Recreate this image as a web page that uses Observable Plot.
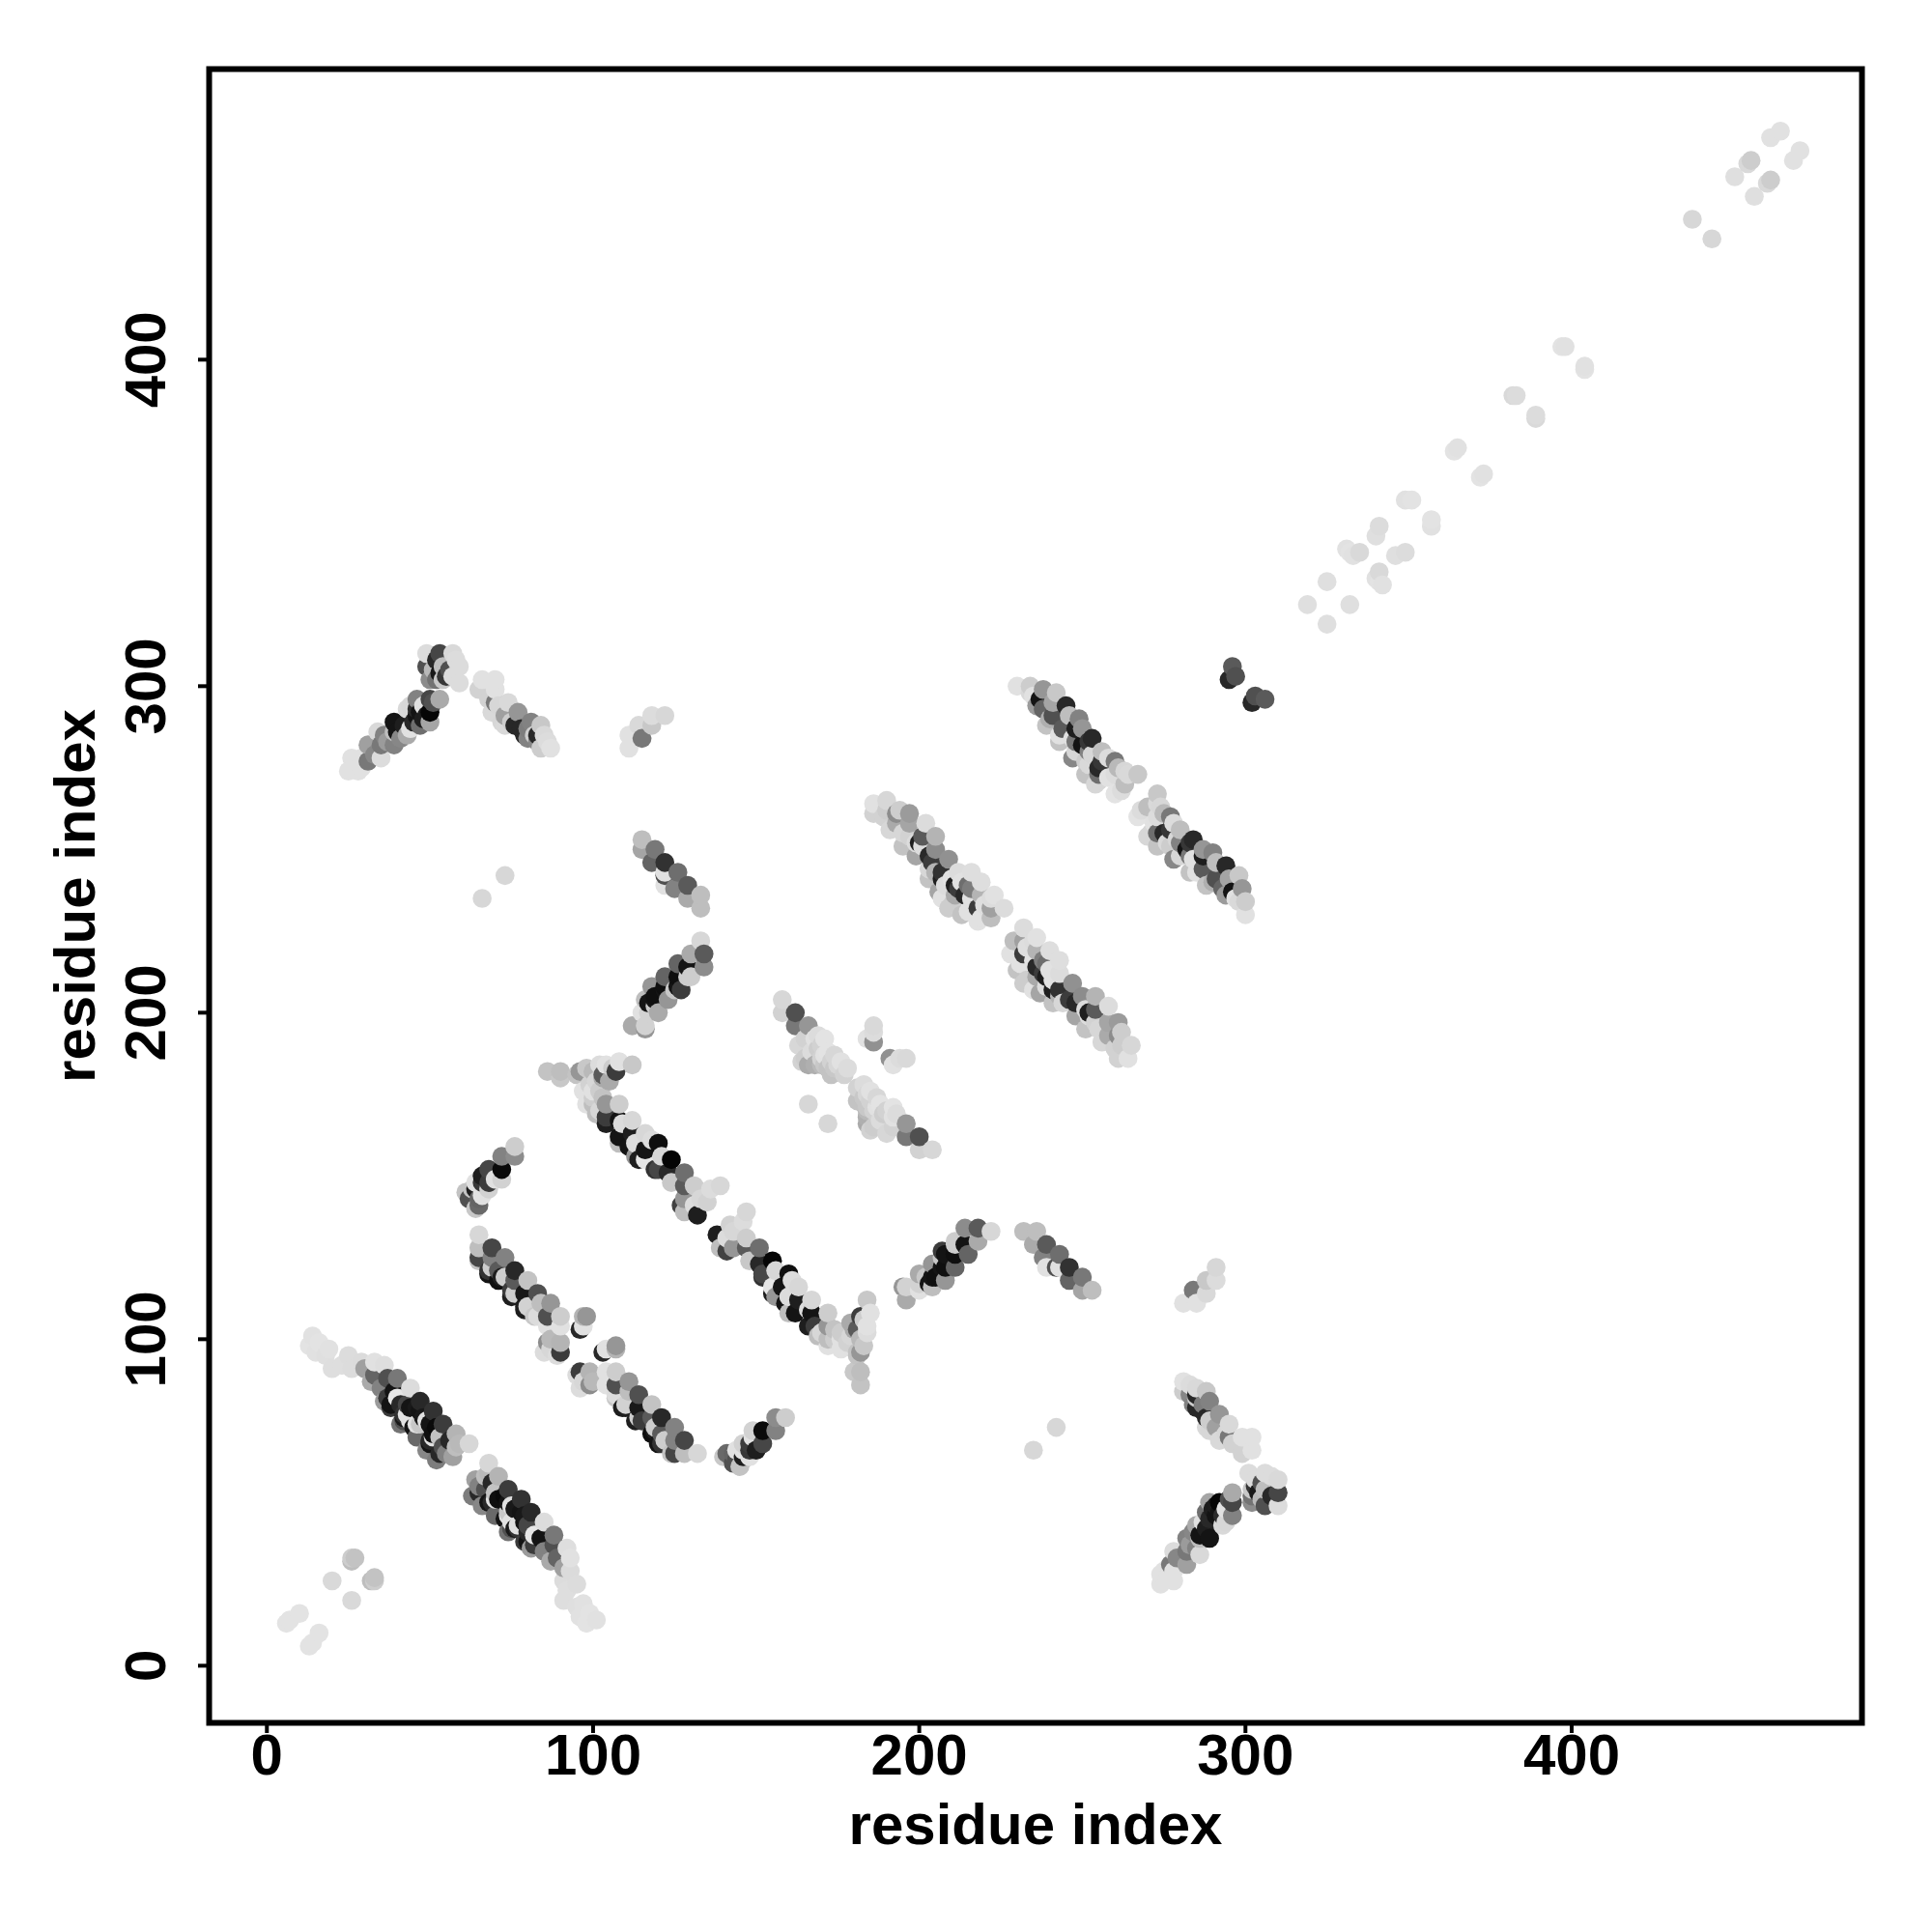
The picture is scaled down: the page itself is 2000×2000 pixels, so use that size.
<!DOCTYPE html>
<html><head><meta charset="utf-8">
<style>html,body{margin:0;padding:0;background:#fff}</style>
<script src="https://cdn.jsdelivr.net/npm/d3@7"></script>
<script src="https://cdn.jsdelivr.net/npm/@observablehq/plot@0.6"></script>
</head><body><div id="chart"></div>
<script>
// [residue i, residue j, contact strength 0-255]; the map is symmetric, so i<j only
const bandA=[[14,101,30],[13,98,28],[16,99,28],[15,96,30],[19,97,30],[18,95,32],[20,91,33],[25,95,35],[23,92,33],[29,93,36],[26,91,35],[30,91,95],[33,93,30],[36,92,33],[33,89,155],[32,87,85],[37,88,175],[40,88,135],[35,85,125],[44,85,35],[39,84,235],[37,82,195],[40,82,25],[43,80,185],[47,81,215],[44,79,235],[51,78,205],[47,78,235],[42,77,205],[44,75,30],[54,74,195],[50,74,235],[47,74,55],[51,71,240],[58,71,75],[62,68,40],[58,67,65],[54,67,175],[50,69,215],[57,64,95],[55,65,125],[38,80,235],[38,79,195],[42,76,230],[43,77,30],[42,75,175],[45,73,235],[46,74,30],[50,68,235],[51,70,30],[53,65,215],[48,76,230],[49,75,30],[52,73,245],[53,70,60],[56,69,215],[59,68,70],[46,79,230],[41,80,215],[36,81,100],[41,74,140],[46,70,150],[49,66,120],[52,63,130]];
const bandB=[[65,132,40],[65,128,65],[65,125,185],[69,128,185],[69,125,125],[73,125,125],[68,121,205],[76,121,215],[72,119,225],[71,121,165],[76,118,165],[80,118,60],[75,115,195],[83,114,175],[79,114,230],[79,110,225],[87,111,105],[84,111,65],[82,107,55],[90,107,50],[86,107,175],[86,104,30],[90,104,30],[86,99,115],[87,97,40],[90,99,75],[90,96,195],[89,95,35],[98,107,105],[97,107,75],[97,104,30],[96,103,215],[65,124,60],[68,120,235],[71,118,240],[75,113,225],[79,109,225],[69,122,50],[73,119,50],[76,114,50],[80,110,45],[83,107,35],[87,100,70],[85,96,35]];
const bandC=[[86,182,60],[90,182,65],[90,180,55],[95,181,60],[96,182,105],[96,181,60],[100,182,70],[97,176,30],[98,183,55],[102,184,35],[106,183,50],[103,180,85],[103,181,165],[105,179,85],[107,182,195],[104,184,30],[108,185,30],[112,184,55],[100,172,65],[104,172,105],[108,172,50],[104,166,225],[108,167,235],[112,167,40],[108,160,65],[113,156,105],[112,163,225],[116,163,40],[116,158,235],[116,155,25],[120,160,240],[121,156,40],[124,155,250],[120,152,185],[128,151,145],[124,148,55],[131,147,50],[128,147,165],[139,147,40],[133,143,40],[135,142,45],[128,143,105],[128,139,65],[132,138,225],[109,166,35],[113,160,35],[118,161,35],[108,162,235],[111,159,235],[114,155,225],[119,152,205],[123,151,215],[102,176,50],[100,174,50],[101,169,65],[104,168,195],[98,172,30],[100,176,30],[101,179,40],[103,174,60],[102,170,40],[99,178,45],[136,146,35],[131,141,35],[127,141,190]];
const bandD=[[61,145,60],[64,140,55],[65,143,155],[63,144,175],[64,148,30],[64,146,225],[66,146,30],[68,146,45],[68,148,195],[68,152,185],[72,149,45],[72,152,245],[72,156,125],[76,156,115],[76,159,50],[63,146,60],[62,143,175],[65,141,150],[66,144,30],[66,148,200],[70,149,30],[66,150,225]];
const bandE=[[112,196,85],[116,195,105],[116,196,45],[115,200,30],[120,200,85],[116,204,65],[119,204,235],[123,204,105],[118,208,105],[122,207,235],[127,207,195],[122,211,155],[126,211,240],[130,211,50],[126,215,155],[129,214,235],[130,218,85],[134,214,115],[134,218,165],[133,222,40],[117,200,45],[125,207,55],[129,211,50],[117,203,235],[119,205,240],[122,208,240],[126,208,235],[119,202,55]];
const bandF=[[115,253,65],[115,250,90],[119,250,135],[118,246,155],[122,246,205],[122,242,175],[122,243,30],[126,243,145],[122,239,30],[125,238,125],[129,239,165],[129,235,85],[133,236,65],[133,232,65]];
const bandG=[[158,204,40],[158,200,45],[162,200,175],[162,196,135],[166,196,105],[165,192,45],[169,193,35],[171,192,28],[165,186,50],[166,184,85],[167,188,35],[171,187,30],[173,181,60],[175,184,40],[173,185,45],[171,184,55],[178,183,35],[166,172,40],[186,191,110],[184,192,30],[186,194,35],[186,196,38],[168,192,30],[170,190,45],[172,188,28],[174,187,40],[170,186,45],[174,183,55],[177,181,45],[172,183,60],[169,189,50],[163,190,40],[164,185,45],[168,184,80],[170,184,70],[176,185,30]];
const bandH=[[186,264,30],[186,261,45],[190,265,40],[190,262,50],[194,262,50],[193,261,115],[193,258,85],[197,261,100],[197,258,90],[197,254,45],[202,258,35],[201,254,165],[201,251,35],[205,254,75],[205,250,115],[204,246,195],[205,243,75],[209,247,110],[207,243,205],[208,239,35],[212,243,35],[211,239,225],[211,236,85],[216,243,33],[215,239,145],[214,236,215],[219,240,33],[219,236,75],[218,232,195],[223,236,30],[219,229,30],[222,229,65],[222,232,95],[226,232,35],[200,252,225],[203,248,215],[207,241,225],[210,241,30],[213,240,30],[212,238,195],[216,235,30],[216,238,130],[220,233,33],[222,235,35],[189,260,45],[195,255,40],[199,252,35],[203,244,40],[207,235,30],[210,233,50],[215,231,30],[218,228,30],[191,256,40],[195,251,60],[199,248,90],[203,241,60],[206,237,90],[209,232,50],[213,230,60]];
const bandI=[[230,300,30],[234,300,50],[234,298,38],[238,299,105],[237,296,235],[238,293,155],[242,298,55],[241,295,90],[241,291,175],[245,294,215],[246,291,65],[244,287,165],[249,290,125],[250,287,105],[248,283,135],[248,280,40],[253,284,215],[252,280,125],[252,276,38],[256,280,65],[255,275,215],[255,273,145],[260,277,135],[260,273,35],[264,273,38],[267,273,55],[260,267,28],[263,270,65],[235,297,30],[236,294,100],[240,290,80],[243,285,30],[248,287,225],[247,284,30],[250,282,235],[251,277,50],[253,279,40],[252,283,200],[258,278,35],[255,271,40],[258,272,30],[262,268,35],[263,274,40],[261,275,70],[256,277,200],[239,288,60],[243,283,60],[247,278,120],[251,273,60],[254,270,40]];
const bandJ=[[25,274,30],[28,274,30],[26,278,30],[29,278,30],[31,277,135],[35,278,35],[31,282,95],[35,282,135],[39,282,125],[36,285,125],[34,286,38],[39,289,235],[39,286,65],[43,285,85],[42,288,225],[43,293,38],[46,296,125],[47,288,145],[45,289,215],[46,291,235],[50,292,250],[50,296,185],[53,296,85],[49,310,35],[49,306,175],[50,302,115],[53,310,185],[54,306,65],[54,302,55],[57,310,38],[56,305,175],[59,306,35],[59,301,35],[40,286,235],[44,287,30],[47,292,235],[48,290,225],[48,294,30],[49,291,225],[50,289,90],[37,283,100],[41,284,120],[33,279,120],[29,275,30],[27,276,30],[51,305,70],[52,302,140],[52,308,215],[55,303,200],[53,304,230],[57,303,35],[58,308,35],[44,294,40],[46,293,210],[51,295,175]];
const bandK=[[66,302,30],[70,302,30],[65,299,45],[70,299,30],[70,295,135],[69,292,38],[74,295,38],[73,291,95],[73,288,38],[77,292,105],[76,288,215],[81,289,125],[80,284,125],[84,288,55],[85,285,38],[84,281,50],[87,281,30],[83,285,215],[72,289,40],[75,289,50],[78,287,215],[79,285,215],[82,285,50],[80,287,130],[83,283,120],[71,294,40],[86,283,35],[68,296,45]];
const bandL=[[122,291,40],[118,291,35],[118,288,55],[114,288,38],[115,284,135],[111,285,30],[111,281,30]];
const bandM=[[66,235,40],[73,242,40]];
const bandN=[[296,306,165],[297,303,175],[295,302,215]];
const nearDiagonalLow=[[6,13,28],[7,14,28],[10,16,28],[20,26,38],[26,33,50],[27,33,60],[26,32,65]];
const nearDiagonalHigh=[[319,325,32],[325,332,32],[331,342,30],[332,341,28],[333,340,30],[335,341,38],[340,346,32],[341,349,35],[349,357,30],[351,357,28],[364,372,28],[365,373,30],[382,389,38],[383,389,35],[397,404,28],[398,404,30],[437,443,40],[450,456,32],[454,460,38],[455,461,50],[461,468,30],[464,470,30]];
const axisTicks=[0,100,200,300,400];
const axisTitle="residue index";

const contacts=[bandA,bandB,bandC,bandD,bandE,bandF,bandG,bandH,bandI,bandJ,bandK,bandL,bandM,bandN,nearDiagonalLow,nearDiagonalHigh].flat();
const rows=d3.sort(contacts.flatMap(([i,j,s])=>[{x:i,y:j,s},{x:j,y:i,s}]),d=>d.x,d=>d.y);
const font={fontFamily:"'Liberation Sans',Arial,sans-serif",fontWeight:"bold",fontSize:60};
const chart=Plot.plot({
  width:2000,height:2000,
  marginLeft:216,marginRight:73,marginTop:71,marginBottom:217,
  style:{background:"#fff",fontFamily:font.fontFamily},
  x:{domain:[-17.7,489]},
  y:{domain:[-17.5,489]},
  color:{type:"linear",domain:[0,255],range:["#ffffff","#000000"]},
  marks:[
    Plot.dot(rows,{x:"x",y:"y",r:9.8,fill:"s"}),
    Plot.frame({stroke:"#000",strokeWidth:6}),
    Plot.axisX({ticks:axisTicks,tickFormat:d=>d,tickSize:11,tickPadding:0,strokeWidth:4,label:axisTitle,labelAnchor:"center",labelArrow:"none",labelOffset:125,color:"#000",...font}),
    Plot.axisY({ticks:axisTicks,tickFormat:d=>d,tickSize:11,tickPadding:35,tickRotate:-90,strokeWidth:4,label:axisTitle,labelAnchor:"center",labelArrow:"none",labelOffset:161,color:"#000",...font})
  ]
});
document.getElementById("chart").appendChild(chart);
</script></body></html>
